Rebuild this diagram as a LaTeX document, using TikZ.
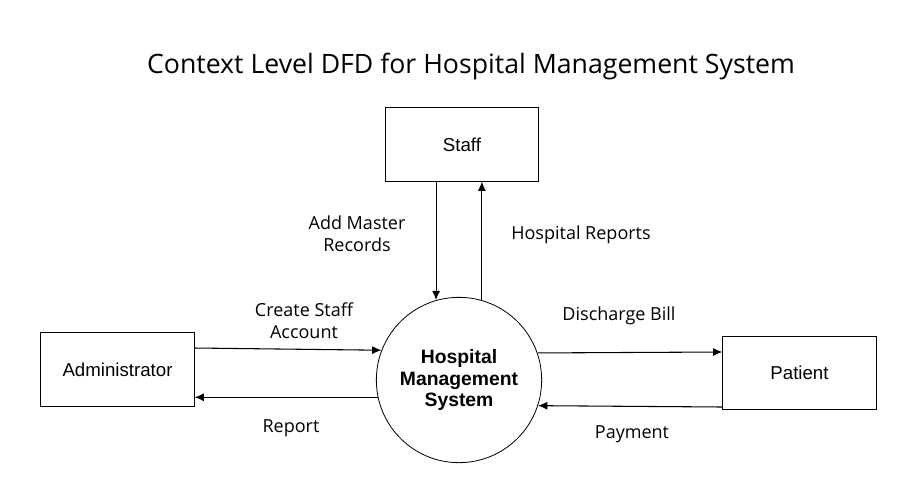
\documentclass[tikz,border=0pt]{standalone}
\usepackage{fontspec}
\setmainfont{Open Sans}
\newfontfamily\boxfont{Liberation Sans}
\usetikzlibrary{arrows.meta}
\begin{document}
\begin{tikzpicture}[x=0.75pt,y=-0.75pt,
  ent/.style={draw,rectangle,minimum width=115pt,minimum height=55pt,font=\boxfont\fontsize{14}{16}\selectfont,line width=0.6pt},
  proc/.style={draw,circle,minimum size=124pt,align=center,font=\boxfont\bfseries\fontsize{14.5}{16}\selectfont,line width=0.6pt},
  lbl/.style={align=center,font=\fontsize{13.5}{16.5}\selectfont},
  flow/.style={-{Latex[length=7pt,width=6pt]},line width=0.8pt}]
\useasboundingbox (0,0) rectangle (918,497);
\node[font=\fontsize{20}{24}\selectfont] (t) at (471,66) {Context Level DFD for Hospital Management System};
\node[ent] (st) at (462,144.5) {Staff};
\node[ent] (ad) at (117.5,369.5) {Administrator};
\node[ent] (pa) at (799.5,373) {Patient};
\node[proc] (c) at (459,380) {Hospital\\Management\\System};
\draw[flow] (st.south -| c.106) -- (c.106);
\draw[flow] (c.74) -- (st.south -| c.74);
\draw[flow] (ad.east |- 0,348) -- (c.159);
\draw[flow] (c.192) -- (ad.east |- c.192);
\draw[flow] (c.19.5) -- (pa.west |- 0,352);
\draw[flow] (pa.west |- 0,407) -- (c.-18);
\node[lbl] (l1) at (357,234) {Add Master\\Records};
\node[lbl] (l2) at (581,235) {Hospital Reports};
\node[lbl] (l3) at (304,321) {Create Staff\\Account};
\node[lbl] (l4) at (291,428) {Report};
\node[lbl] (l5) at (619,316) {Discharge Bill};
\node[lbl] (l6) at (632,434) {Payment};
\end{tikzpicture}
\end{document}
